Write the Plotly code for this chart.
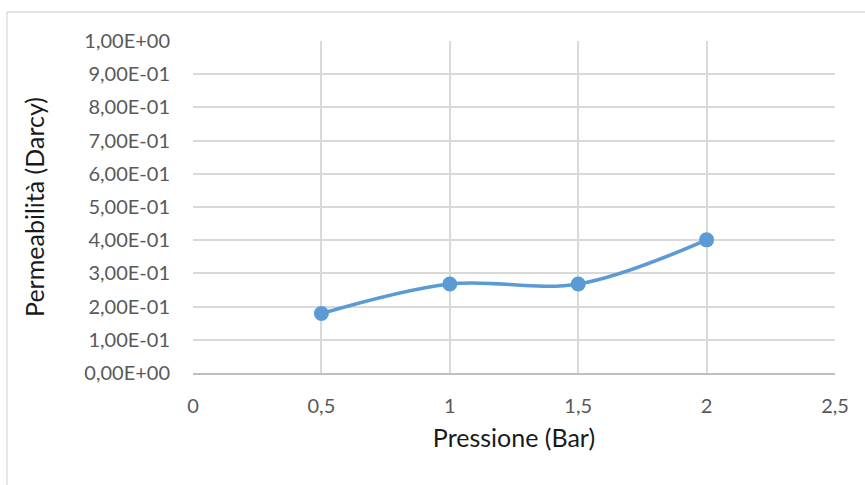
import plotly.graph_objects as go

# Permeability measured at each pressure step
pressione = [0.5, 1.0, 1.5, 2.0]
permeabilita = [0.179, 0.268, 0.268, 0.401]

x_tickvals = [0, 0.5, 1, 1.5, 2, 2.5]
x_ticktext = ["0", "0,5", "1", "1,5", "2", "2,5"]
y_tickvals = [0, 0.1, 0.2, 0.3, 0.4, 0.5, 0.6, 0.7, 0.8, 0.9, 1.0]
y_ticktext = ["0,00E+00", "1,00E-01", "2,00E-01", "3,00E-01", "4,00E-01", "5,00E-01",
              "6,00E-01", "7,00E-01", "8,00E-01", "9,00E-01", "1,00E+00"]

FONT = "Lato, Carlito, 'Open Sans', sans-serif"
LINE_BLUE = "#5b9bd5"
GRID = "#d9d9d9"

fig = go.Figure()
fig.add_trace(go.Scatter(
    x=pressione, y=permeabilita,
    mode="lines+markers",
    line=dict(color=LINE_BLUE, width=3.6, shape="spline", smoothing=1),
    marker=dict(color=LINE_BLUE, size=15),
    showlegend=False,
    hoverinfo="x+y",
))

W, H = 865, 485
ml, mr, mt, mb = 193, 30, 41, 112
pw, ph = W - ml - mr, H - mt - mb

def px_x(p):
    return (p - ml) / pw

def px_y(p):
    return 1 - (p - mt) / ph

# Outer chart frame (only top and left edges fall inside the page)
frame = dict(color="#d9d9d9", width=1.3)
shapes = [
    dict(type="line", xref="paper", yref="paper", x0=px_x(7), x1=px_x(7),
         y0=px_y(12), y1=px_y(500), line=frame),
    dict(type="line", xref="paper", yref="paper", x0=px_x(7), x1=px_x(880),
         y0=px_y(12), y1=px_y(12), line=frame),
]

TITLE_FONT = dict(family=FONT, size=25, color="#1a1a1a")

fig.update_layout(
    width=W, height=H,
    margin=dict(l=ml, r=mr, t=mt, b=mb),
    paper_bgcolor="white", plot_bgcolor="white",
    font=dict(family=FONT, size=20, color="#595959"),
    shapes=shapes,
    xaxis=dict(
        range=[0, 2.5], tickvals=x_tickvals, ticktext=x_ticktext,
        showgrid=True, gridcolor=GRID, gridwidth=1.5,
        zeroline=False, showline=True, linecolor="#bfbfbf", linewidth=1.5,
        ticks="", ticklabelstandoff=14,
        title=dict(text="Pressione (Bar)", font=TITLE_FONT, standoff=14),
    ),
    yaxis=dict(
        range=[0, 1.0], tickvals=y_tickvals, ticktext=y_ticktext,
        showgrid=True, gridcolor=GRID, gridwidth=1.5,
        zeroline=False, showline=False,
        ticks="", ticklabelstandoff=22,
        title=dict(text="Permeabilità (Darcy)", font=TITLE_FONT, standoff=32),
    ),
)

fig.write_html("out.html")
